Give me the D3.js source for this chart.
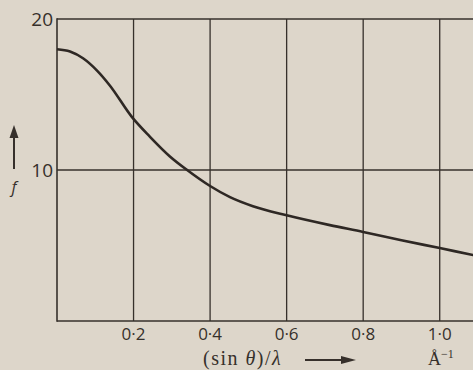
<!DOCTYPE html>
<html><head><meta charset="utf-8">
<script src="https://cdn.jsdelivr.net/npm/d3@7"></script>
<style>
html,body{margin:0;padding:0;background:#ddd6ca;overflow:hidden;}
svg{display:block;}
</style></head>
<body>
<svg id="c" width="473" height="370"></svg>
<script>
// data
const sVals = [0, 0.034, 0.068, 0.104, 0.138, 0.196, 0.243, 0.295, 0.34, 0.4, 0.452, 0.512, 0.6, 0.713, 0.8, 0.9, 1.0, 1.087, 1.12];
const fVals = [18.0, 17.85, 17.4, 16.6, 15.6, 13.5, 12.2, 10.9, 10.0, 8.94, 8.2, 7.6, 7.0, 6.35, 5.9, 5.35, 4.83, 4.37, 4.2];
const xTicks = [0.2, 0.4, 0.6, 0.8, 1.0];
const xTickLabels = ["0·2", "0·4", "0·6", "0·8", "1·0"];
const yTicks = [10, 20];
const yTickLabels = ["10", "20"];

const svg = d3.select("#c");
const ink = "#36302b";
const x = d3.scaleLinear().domain([0, 1.1]).range([57, 478]);
const y = d3.scaleLinear().domain([0, 20]).range([321, 19]);
const sans = "'Open Sans', 'DejaVu Sans', sans-serif";
const serif = "'Liberation Serif', 'DejaVu Serif', serif";

// vertical grid lines
svg.append("g").selectAll("line").data(xTicks).join("line")
  .attr("x1", d => x(d)).attr("x2", d => x(d))
  .attr("y1", y(20)).attr("y2", y(0))
  .attr("stroke", ink).attr("stroke-width", 1.3);

// horizontal grid lines
svg.append("g").selectAll("line").data(yTicks).join("line")
  .attr("x1", x(0)).attr("x2", 473)
  .attr("y1", d => y(d)).attr("y2", d => y(d))
  .attr("stroke", ink).attr("stroke-width", 1.4);

// axes frame (left and bottom)
svg.append("line").attr("x1", x(0)).attr("x2", x(0)).attr("y1", y(20)-0.7).attr("y2", y(0)+0.8)
  .attr("stroke", ink).attr("stroke-width", 1.6);
svg.append("line").attr("x1", x(0)).attr("x2", 473).attr("y1", y(0)).attr("y2", y(0))
  .attr("stroke", ink).attr("stroke-width", 1.6);

// curve
const line = d3.line().x((d, i) => x(sVals[i])).y(d => y(d)).curve(d3.curveMonotoneX);
svg.append("path").datum(fVals).attr("d", line)
  .attr("fill", "none").attr("stroke", "#2e2824").attr("stroke-width", 2.6);

// y tick labels
svg.append("g").selectAll("text").data(yTicks).join("text")
  .attr("x", 53).attr("y", d => y(d) + 7)
  .attr("text-anchor", "end")
  .attr("font-family", sans)
  .attr("font-size", 19).attr("fill", ink)
  .text((d, i) => yTickLabels[i]);

// x tick labels
svg.append("g").selectAll("text").data(xTicks).join("text")
  .attr("x", d => x(d)).attr("y", 340)
  .attr("text-anchor", "middle")
  .attr("font-family", sans)
  .attr("font-size", 17).attr("fill", ink)
  .text((d, i) => xTickLabels[i]);

// y axis arrow and label
svg.append("line").attr("x1", 14).attr("x2", 14).attr("y1", 169).attr("y2", 134)
  .attr("stroke", ink).attr("stroke-width", 2);
svg.append("path").attr("d", "M9.5,138 L14,125 L18.5,138 Z").attr("fill", ink);
svg.append("text").attr("x", 14).attr("y", 193)
  .attr("font-family", sans).attr("font-style", "italic")
  .attr("font-size", 16).attr("fill", ink).attr("text-anchor", "middle").text("f");

// x axis title
const t = svg.append("text").attr("x", 203).attr("y", 365)
  .attr("font-family", serif).attr("letter-spacing", 1.5)
  .attr("font-size", 20).attr("fill", ink);
t.append("tspan").text("(sin ");
t.append("tspan").attr("font-style", "italic").text("θ");
t.append("tspan").text(")/");
t.append("tspan").attr("font-style", "italic").text("λ");
svg.append("line").attr("x1", 305).attr("x2", 346).attr("y1", 360).attr("y2", 360)
  .attr("stroke", ink).attr("stroke-width", 2.2);
svg.append("path").attr("d", "M341,356 L356,360 L341,364 Z").attr("fill", ink);
const u = svg.append("text").attr("x", 428).attr("y", 365)
  .attr("font-family", serif)
  .attr("font-size", 18).attr("fill", ink);
u.append("tspan").text("Å");
u.append("tspan").attr("dy", -7).attr("font-size", 12).text("−1");
</script>
</body></html>
